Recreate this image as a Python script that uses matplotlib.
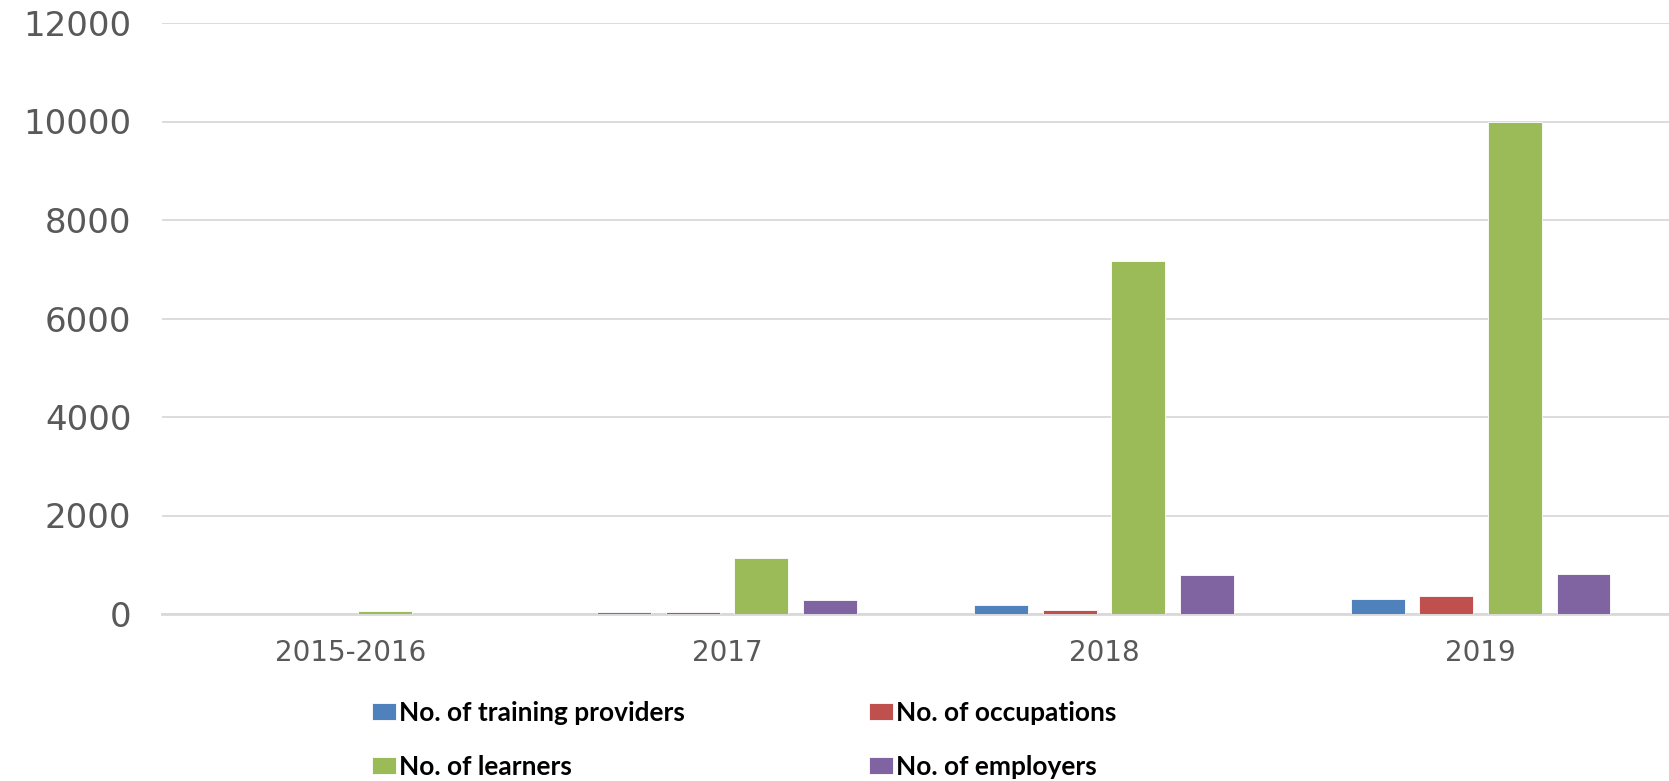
import matplotlib
matplotlib.use("Agg")
import matplotlib.pyplot as plt
import numpy as np

# Datos
years = ["2015-2016", "2017", "2018", "2019"]
training_providers = [0, 35, 180, 305]
occupations = [0, 35, 80, 370]
learners = [60, 1140, 7170, 10000]
employers = [0, 280, 800, 820]

series = [
    ("No. of training providers", training_providers, "#4F81BD"),
    ("No. of occupations", occupations, "#C0504D"),
    ("No. of learners", learners, "#9BBB59"),
    ("No. of employers", employers, "#8064A2"),
]

W, H = 1669, 781
fig = plt.figure(figsize=(W / 100, H / 100), dpi=100)
ax = fig.add_axes([162 / W, 1 - 614 / H, 1 - 162 / W, (614 - 23) / H])

x = np.arange(len(years))
pitch = 0.182
width = 0.143
handles = []
for i, (label, vals, color) in enumerate(series):
    b = ax.bar(x + (i - 1.5) * pitch, vals, width, color=color,
               edgecolor="white", linewidth=0.6, label=label, zorder=3)
    handles.append(b)

ax.set_xlim(-0.5, 3.5)
ax.set_ylim(0, 12000)
ax.set_yticks(np.arange(0, 12001, 2000))
ax.set_xticks(x)
ax.set_xticklabels(years)
ax.grid(axis="y", color="#d9d9d9", linewidth=1.3, zorder=0)
ax.set_axisbelow(True)
for s in ["top", "right", "left"]:
    ax.spines[s].set_visible(False)
ax.spines["bottom"].set_color("#d9d9d9")
ax.spines["bottom"].set_linewidth(2)
ax.tick_params(axis="both", length=0, colors="#595959")
ax.tick_params(axis="y", labelsize=24.5, pad=22)
ax.tick_params(axis="x", labelsize=20, pad=18)

# Leyenda: columnas (providers, learners) y (occupations, employers)
order = [0, 2, 1, 3]
LEG_SIZE = 18.9
leg_kw = dict(ncol=2, loc="upper left", bbox_to_anchor=(372 / W, 1 - 701 / H),
              frameon=False, borderpad=0, borderaxespad=0,
              handlelength=0.91, handleheight=0.6, handletextpad=0.1,
              labelspacing=1.14,
              prop={"family": ["Lato", "DejaVu Sans"], "weight": "bold",
                    "size": LEG_SIZE})


def make_legend(colsp):
    return fig.legend([handles[k] for k in order], [series[k][0] for k in order],
                      columnspacing=colsp, **leg_kw)


leg = make_legend(6.0)
fig.canvas.draw()
# ajustar la separación de columnas para que la 2a columna empiece en x=869
px_per_em = LEG_SIZE * 100 / 72
col2_x = leg.legend_handles[2].get_window_extent().x0
leg.remove()
leg = make_legend(6.0 + (869 - col2_x) / px_per_em)

fig.savefig("out.png", dpi=100)
